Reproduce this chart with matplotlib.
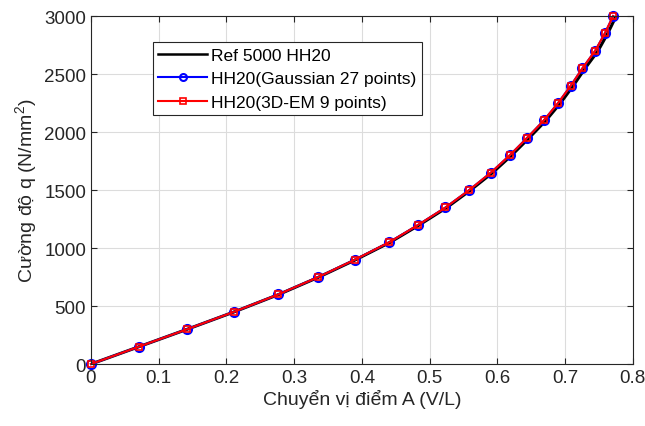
import matplotlib.pyplot as plt
import numpy as np

plt.rcParams['font.family'] = ['Liberation Sans', 'DejaVu Sans']
plt.rcParams['mathtext.default'] = 'regular'

# load q (N/mm^2) and displacement of point A (V/L)
q = [0, 150, 300, 450, 600, 750, 900, 1050, 1200, 1350, 1500, 1650, 1800,
     1950, 2100, 2250, 2400, 2550, 2700, 2850, 3000]
x_gauss = [0, 0.0708, 0.1417, 0.2110, 0.2765, 0.3355, 0.3897, 0.4403, 0.4832,
           0.5235, 0.5584, 0.5904, 0.6184, 0.6440, 0.6686, 0.6897, 0.7085,
           0.7257, 0.7444, 0.7587, 0.7710]
x_em = [0, 0.0708, 0.1417, 0.2110, 0.2765, 0.3355, 0.3897, 0.4403, 0.4832,
        0.5235, 0.5584, 0.5904, 0.6184, 0.6440, 0.6686, 0.6897, 0.7085,
        0.7257, 0.7444, 0.7587, 0.7710]
x_ref = [0, 0.0710, 0.1420, 0.2115, 0.2772, 0.3365, 0.3910, 0.4418, 0.4850,
         0.5255, 0.5606, 0.5930, 0.6212, 0.6470, 0.6718, 0.6932, 0.7122,
         0.7297, 0.7487, 0.7630, 0.7755]

txt = '#262626'

fig = plt.figure(figsize=(6.45, 4.27), dpi=100)
ax = fig.add_axes([0.141, 0.145, 0.840, 0.815])

ax.plot(x_ref, q, color='black', lw=2.2, label='Ref 5000 HH20')
ax.plot(x_gauss, q, color='blue', lw=1.5, marker='o', ms=6.5, mfc='none',
        mew=1.5, label='HH20(Gaussian 27 points)', clip_on=False)
ax.plot(x_em, q, color='red', lw=1.5, marker='s', ms=5, mfc='none',
        mew=1.2, label='HH20(3D-EM 9 points)', clip_on=False)

ax.set_xlim(0, 0.8)
ax.set_ylim(0, 3000)
ax.set_xticks(np.arange(0, 0.81, 0.1))
ax.set_xticklabels(['0', '0.1', '0.2', '0.3', '0.4', '0.5', '0.6', '0.7', '0.8'])
ax.set_yticks(np.arange(0, 3001, 500))

ax.grid(True, color='#dcdcdc', lw=0.8)
ax.set_axisbelow(True)
ax.tick_params(direction='in', top=True, right=True, labelsize=13.5,
               colors=txt, length=4)
for s in ax.spines.values():
    s.set_color(txt)
    s.set_linewidth(0.8)

ax.set_xlabel('Chuyển vị điểm A (V/L)', fontsize=14, color=txt, labelpad=2)
ax.set_ylabel('Cường độ q (N/mm$^2$)', fontsize=14, color=txt, labelpad=4)

leg = ax.legend(loc='upper left', bbox_to_anchor=(0.114, 0.926), fontsize=12.5,
                handlelength=2.8, borderaxespad=0, fancybox=False,
                framealpha=1, edgecolor=txt, borderpad=0.33,
                labelspacing=0.48, handletextpad=0.25)
leg.get_frame().set_linewidth(0.8)
for h, ms in zip(leg.legend_handles, [0, 5, 4]):
    h.set_markersize(ms)
leg.legend_handles[0].set_linewidth(1.8)

fig.savefig('out.png', dpi=100)
